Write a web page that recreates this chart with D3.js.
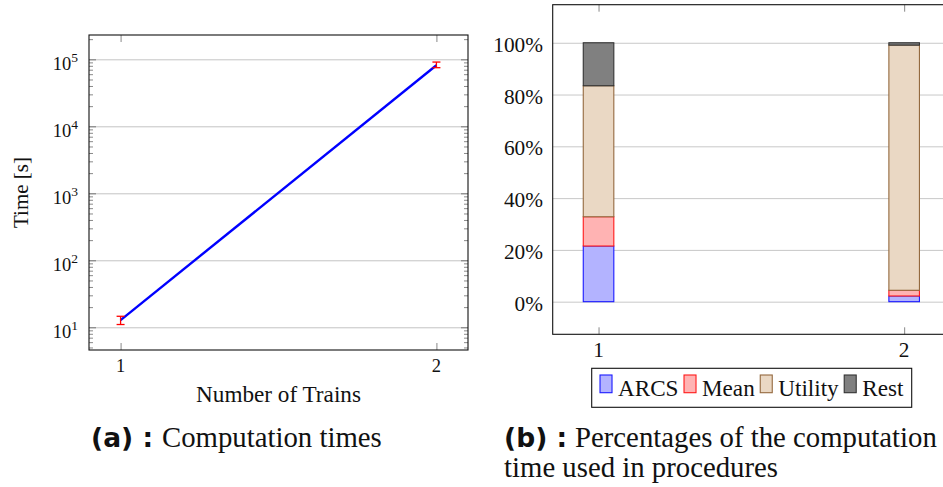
<!DOCTYPE html>
<html>
<head>
<meta charset="utf-8">
<script src="https://cdn.jsdelivr.net/npm/d3@7"></script>
<style>
  html, body { margin: 0; padding: 0; background: #fff; }
  svg { display: block; }
  text { font-family: "Liberation Serif", "DejaVu Serif", serif; fill: #111; }
  text.bold { font-family: "DejaVu Sans", "Open Sans", sans-serif; font-weight: bold; }
</style>
</head>
<body>
<svg id="chart" width="943" height="487"></svg>
<script>
// ---- (a) computation times ----
const trains = [1, 2];
const timeMean = [12.8, 81500];
const timeLow = [11.0, 75000];
const timeHigh = [14.6, 91000];
const timeTicks = [10, 100, 1000, 10000, 100000];

// ---- (b) share of computation time per procedure ----
const procCategories = [1, 2];
const procNames = ["ARCS", "Mean", "Utility", "Rest"];
const arcsShare = [21.5, 2.2];
const meanShare = [11.3, 2.2];
const utilityShare = [50.6, 94.7];
const restShare = [16.6, 0.9];
const pctTicks = [0, 20, 40, 60, 80, 100];

const procFill = { ARCS: "#b3b3ff", Mean: "#ffb3b3", Utility: "#ead8c4", Rest: "#808080" };
const procStroke = { ARCS: "#1a1aff", Mean: "#ff1a1a", Utility: "#94693f", Rest: "#333333" };

const svg = d3.select("#chart");

// scale a text's font size so its rendered width equals a target width
function fitSize(sel, base, target) {
  sel.attr("font-size", base);
  const w = sel.node().getComputedTextLength();
  const s = base * target / w;
  sel.attr("font-size", s);
  return s;
}

function styleTicks(g, color) {
  g.select(".domain").remove();
  g.selectAll(".tick line").attr("stroke", color).attr("stroke-width", 1);
  g.selectAll(".tick text").remove();
}

// ================= Panel (a) =================
const A = { left: 89, right: 468, top: 35, bottom: 350 };
const xA = d3.scaleLinear().domain([0.9, 2.1]).range([A.left, A.right]);
const yA = d3.scaleLog().domain([Math.pow(10, 0.661), Math.pow(10, 5.363)]).range([A.bottom, A.top]);
const gA = svg.append("g");

// grid lines at decades
gA.append("g").attr("transform", `translate(${A.left},0)`)
  .call(d3.axisLeft(yA).tickValues(timeTicks).tickSize(-(A.right - A.left)).tickFormat(""))
  .call(g => styleTicks(g, "#c4c4c4"));

// minor ticks
const minors = [];
for (let e = 0; e <= 5; e++) for (let m = 2; m <= 9; m++) {
  const v = m * Math.pow(10, e);
  if (v > yA.domain()[0] && v < yA.domain()[1]) minors.push(v);
}
gA.append("g").attr("transform", `translate(${A.left},0)`)
  .call(d3.axisLeft(yA).tickValues(minors).tickSize(-4).tickFormat(""))
  .call(g => styleTicks(g, "#8a8a8a"));
gA.append("g").attr("transform", `translate(${A.right},0)`)
  .call(d3.axisRight(yA).tickValues(minors).tickSize(-4).tickFormat(""))
  .call(g => styleTicks(g, "#8a8a8a"));
// major ticks
gA.append("g").attr("transform", `translate(${A.left},0)`)
  .call(d3.axisLeft(yA).tickValues(timeTicks).tickSize(-7).tickFormat(""))
  .call(g => styleTicks(g, "#777"));
gA.append("g").attr("transform", `translate(${A.right},0)`)
  .call(d3.axisRight(yA).tickValues(timeTicks).tickSize(-7).tickFormat(""))
  .call(g => styleTicks(g, "#777"));
gA.append("g").attr("transform", `translate(0,${A.bottom})`)
  .call(d3.axisBottom(xA).tickValues(trains).tickSize(-7).tickFormat(""))
  .call(g => styleTicks(g, "#888"));
gA.append("g").attr("transform", `translate(0,${A.top})`)
  .call(d3.axisTop(xA).tickValues(trains).tickSize(-7).tickFormat(""))
  .call(g => styleTicks(g, "#888"));

// line
gA.append("path")
  .datum(trains.map((t, i) => [t, timeMean[i]]))
  .attr("fill", "none").attr("stroke", "#0000ff").attr("stroke-width", 2.4)
  .attr("d", d3.line().x(d => xA(d[0])).y(d => yA(d[1])));

// error bars
const eb = gA.append("g").attr("stroke", "#ff0000").attr("stroke-width", 1.3);
trains.forEach((t, i) => {
  const cx = xA(t);
  eb.append("line").attr("x1", cx).attr("x2", cx).attr("y1", yA(timeLow[i])).attr("y2", yA(timeHigh[i]));
  eb.append("line").attr("x1", cx - 4).attr("x2", cx + 4).attr("y1", yA(timeLow[i])).attr("y2", yA(timeLow[i]));
  eb.append("line").attr("x1", cx - 4).attr("x2", cx + 4).attr("y1", yA(timeHigh[i])).attr("y2", yA(timeHigh[i]));
});

// frame
gA.append("rect").attr("x", A.left).attr("y", A.top)
  .attr("width", A.right - A.left).attr("height", A.bottom - A.top)
  .attr("fill", "none").attr("stroke", "#111").attr("stroke-width", 1.1);

// y tick labels 10^k
timeTicks.forEach(v => {
  const t = gA.append("text").attr("x", 78).attr("y", yA(v) + 10.5)
    .attr("text-anchor", "end").attr("font-size", 18.5);
  t.append("tspan").text("10");
  t.append("tspan").attr("dy", -8).attr("font-size", 13.5).text(String(Math.round(Math.log10(v))));
});
// x tick labels
trains.forEach(t => {
  gA.append("text").attr("x", xA(t)).attr("y", 372).attr("text-anchor", "middle")
    .attr("font-size", 18.5).text(t);
});
// axis titles
const yTitle = gA.append("text").attr("text-anchor", "middle")
  .attr("transform", `translate(28,192.5) rotate(-90)`).text("Time [s]");
fitSize(yTitle, 17, 71);
const xTitle = gA.append("text").attr("x", 278.5).attr("y", 402).attr("text-anchor", "middle")
  .text("Number of Trains");
fitSize(xTitle, 19, 165);

// ================= Panel (b) =================
const B = { left: 552.7, top: 4.7, bottom: 334.3 };
const xB = d3.scaleLinear().domain([0.85, 2.15]).range([B.left, 950]);
const yB = d3.scaleLinear().domain([-12.6, 114.7]).range([B.bottom, B.top]);
const gB = svg.append("g");

gB.append("g").attr("transform", `translate(${B.left},0)`)
  .call(d3.axisLeft(yB).tickValues(pctTicks).tickSize(-(950 - B.left)).tickFormat(""))
  .call(g => styleTicks(g, "#c8c8c8"));
gB.append("g").attr("transform", `translate(0,${B.bottom})`)
  .call(d3.axisBottom(xB).tickValues(procCategories).tickSize(-7).tickFormat(""))
  .call(g => styleTicks(g, "#888"));
gB.append("g").attr("transform", `translate(0,${B.top})`)
  .call(d3.axisTop(xB).tickValues(procCategories).tickSize(-7).tickFormat(""))
  .call(g => styleTicks(g, "#888"));

// stacked bars
const rows = procCategories.map((c, i) => ({
  cat: c, ARCS: arcsShare[i], Mean: meanShare[i], Utility: utilityShare[i], Rest: restShare[i]
}));
const stacked = d3.stack().keys(procNames)(rows);
const barW = xB(0.1) - xB(0);
stacked.forEach(layer => {
  gB.append("g").selectAll("rect").data(layer).join("rect")
    .attr("x", d => xB(d.data.cat) - barW / 2)
    .attr("y", d => yB(d[1]))
    .attr("width", barW)
    .attr("height", d => yB(d[0]) - yB(d[1]))
    .attr("fill", procFill[layer.key])
    .attr("stroke", procStroke[layer.key])
    .attr("stroke-width", 1.1);
});

// frame (right side runs past the page edge)
gB.append("rect").attr("x", B.left).attr("y", B.top)
  .attr("width", 950 - B.left).attr("height", B.bottom - B.top)
  .attr("fill", "none").attr("stroke", "#111").attr("stroke-width", 1.1);

pctTicks.forEach(v => {
  gB.append("text").attr("x", 543).attr("y", yB(v) + 9).attr("text-anchor", "end")
    .attr("font-size", 21.3).text(v + "%");
});
procCategories.forEach(c => {
  gB.append("text").attr("x", xB(c)).attr("y", 356.5).attr("text-anchor", "middle")
    .attr("font-size", 21.3).text(c);
});

// legend
const leg = gB.append("g");
const legTexts = procNames.map(n => leg.append("text").attr("y", 396).attr("font-size", 21).text(n));
const natural = d3.sum(legTexts, t => t.node().getComputedTextLength());
const legSize = 21 * 215 / natural;
legTexts.forEach(t => t.attr("font-size", legSize));
const swW = 12, swH = 17.7, gapIn = 6, gapOut = 5.5;
const widths = legTexts.map(t => t.node().getComputedTextLength());
const inner = d3.sum(widths) + procNames.length * (swW + gapIn) + (procNames.length - 1) * gapOut;
const legLeft = 591.7, legRight = 911.7;
let cx = (legLeft + legRight) / 2 - inner / 2;
procNames.forEach((n, i) => {
  leg.insert("rect", "text").attr("x", cx).attr("y", 375).attr("width", swW).attr("height", swH)
    .attr("fill", procFill[n]).attr("stroke", procStroke[n]).attr("stroke-width", 1.1);
  legTexts[i].attr("x", cx + swW + gapIn);
  cx += swW + gapIn + widths[i] + gapOut;
});
leg.append("rect").attr("x", legLeft).attr("y", 368.3)
  .attr("width", legRight - legLeft).attr("height", 39)
  .attr("fill", "none").attr("stroke", "#111").attr("stroke-width", 1.1);

// ================= captions =================
const capB1 = svg.append("text").attr("x", 575).attr("y", 447).text("Percentages of the computation");
const capSize = fitSize(capB1, 24, 362);
svg.append("text").attr("x", 162).attr("y", 447).attr("font-size", capSize).text("Computation times");

const boldA = svg.append("text").attr("class", "bold").attr("y", 447).text("(a) :");
const boldSize = fitSize(boldA, 22, 62);
const boldB = svg.append("text").attr("class", "bold").attr("y", 447).attr("font-size", boldSize).text("(b) :");
const boldW = boldA.node().getComputedTextLength();
boldA.attr("x", 162 - 9 - boldW);
const bStart = 575 - 9 - boldW;
boldB.attr("x", bStart);
svg.append("text").attr("x", bStart).attr("y", 477).attr("font-size", capSize).text("time used in procedures");
</script>
</body>
</html>
